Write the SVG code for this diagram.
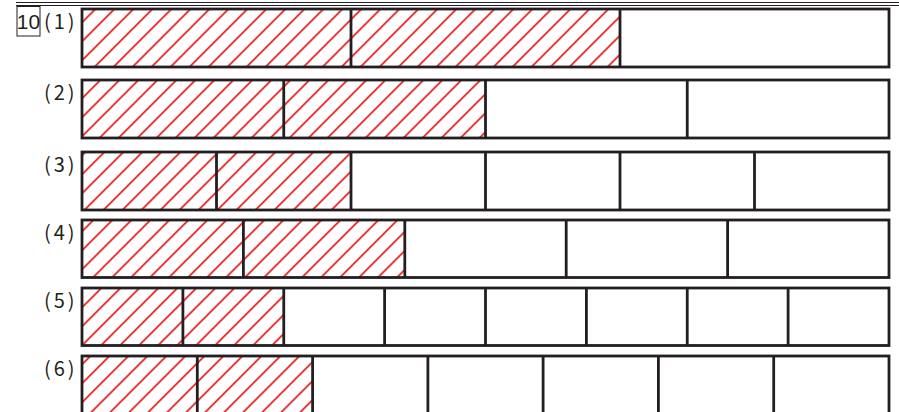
<svg xmlns="http://www.w3.org/2000/svg" width="899" height="412" viewBox="0 0 899 412">
<defs>
<pattern id="hatch" width="13.435" height="13.435" patternUnits="userSpaceOnUse" patternTransform="rotate(45)">
<line x1="6.7" y1="-1" x2="6.7" y2="15" stroke="#e61010" stroke-width="1.6"/>
</pattern>
</defs>
<style>
.frame{fill:none;stroke:#231f20;stroke-width:2.8}
.div{stroke:#231f20;stroke-width:2.8}
.hatch{fill:url(#hatch)}
.lbl{font-family:"Noto Sans CJK JP","Noto Sans",sans-serif;font-size:20px;letter-spacing:3px;fill:#231f20}
.num{font-family:"Liberation Sans",Arial,sans-serif;font-size:21px;fill:#231f20}
.rule{stroke:#231f20;stroke-width:1}
</style>
<rect width="899" height="412" fill="#fff"/>
<g id="header">
<line class="rule" x1="16" y1="2.5" x2="899" y2="2.5"/>
<line class="rule" x1="16" y1="5.5" x2="899" y2="5.5"/>
<rect x="17" y="6.5" width="23" height="29.5" fill="none" stroke="#231f20" stroke-width="1"/>
<text class="num" x="28.5" y="29" text-anchor="middle">10</text>
</g>
<g id="row1">
<text class="lbl" x="44" y="29">(1)</text>
<rect class="hatch" x="82" y="9" width="538" height="58"/>
<rect class="frame" x="82" y="9" width="807" height="58"/>
<line class="div" x1="351" y1="9" x2="351" y2="67"/>
<line class="div" x1="620" y1="9" x2="620" y2="67"/>
</g>
<g id="row2">
<text class="lbl" x="44" y="100">(2)</text>
<rect class="hatch" x="82" y="80" width="403.5" height="58"/>
<rect class="frame" x="82" y="80" width="807" height="58"/>
<line class="div" x1="283.75" y1="80" x2="283.75" y2="138"/>
<line class="div" x1="485.5" y1="80" x2="485.5" y2="138"/>
<line class="div" x1="687.25" y1="80" x2="687.25" y2="138"/>
</g>
<g id="row3">
<text class="lbl" x="44" y="172">(3)</text>
<rect class="hatch" x="82" y="152" width="269" height="58"/>
<rect class="frame" x="82" y="152" width="807" height="58"/>
<line class="div" x1="216.5" y1="152" x2="216.5" y2="210"/>
<line class="div" x1="351" y1="152" x2="351" y2="210"/>
<line class="div" x1="485.5" y1="152" x2="485.5" y2="210"/>
<line class="div" x1="620" y1="152" x2="620" y2="210"/>
<line class="div" x1="754.5" y1="152" x2="754.5" y2="210"/>
</g>
<g id="row4">
<text class="lbl" x="44" y="240">(4)</text>
<rect class="hatch" x="82" y="220" width="322.8" height="57.5"/>
<rect class="frame" x="82" y="220" width="807" height="57.5"/>
<line class="div" x1="243.4" y1="220" x2="243.4" y2="277.5"/>
<line class="div" x1="404.8" y1="220" x2="404.8" y2="277.5"/>
<line class="div" x1="566.2" y1="220" x2="566.2" y2="277.5"/>
<line class="div" x1="727.6" y1="220" x2="727.6" y2="277.5"/>
</g>
<g id="row5">
<text class="lbl" x="44" y="308">(5)</text>
<rect class="hatch" x="82" y="288" width="201.75" height="57.5"/>
<rect class="frame" x="82" y="288" width="807" height="57.5"/>
<line class="div" x1="182.9" y1="288" x2="182.9" y2="345.5"/>
<line class="div" x1="283.75" y1="288" x2="283.75" y2="345.5"/>
<line class="div" x1="384.6" y1="288" x2="384.6" y2="345.5"/>
<line class="div" x1="485.5" y1="288" x2="485.5" y2="345.5"/>
<line class="div" x1="586.4" y1="288" x2="586.4" y2="345.5"/>
<line class="div" x1="687.25" y1="288" x2="687.25" y2="345.5"/>
<line class="div" x1="788.1" y1="288" x2="788.1" y2="345.5"/>
</g>
<g id="row6">
<text class="lbl" x="44" y="376">(6)</text>
<rect class="hatch" x="82" y="356" width="230.6" height="58"/>
<rect class="frame" x="82" y="356" width="807" height="58"/>
<line class="div" x1="197.3" y1="356" x2="197.3" y2="414"/>
<line class="div" x1="312.6" y1="356" x2="312.6" y2="414"/>
<line class="div" x1="427.9" y1="356" x2="427.9" y2="414"/>
<line class="div" x1="543.1" y1="356" x2="543.1" y2="414"/>
<line class="div" x1="658.4" y1="356" x2="658.4" y2="414"/>
<line class="div" x1="773.7" y1="356" x2="773.7" y2="414"/>
</g>
<g id="connectors"></g>
</svg>
